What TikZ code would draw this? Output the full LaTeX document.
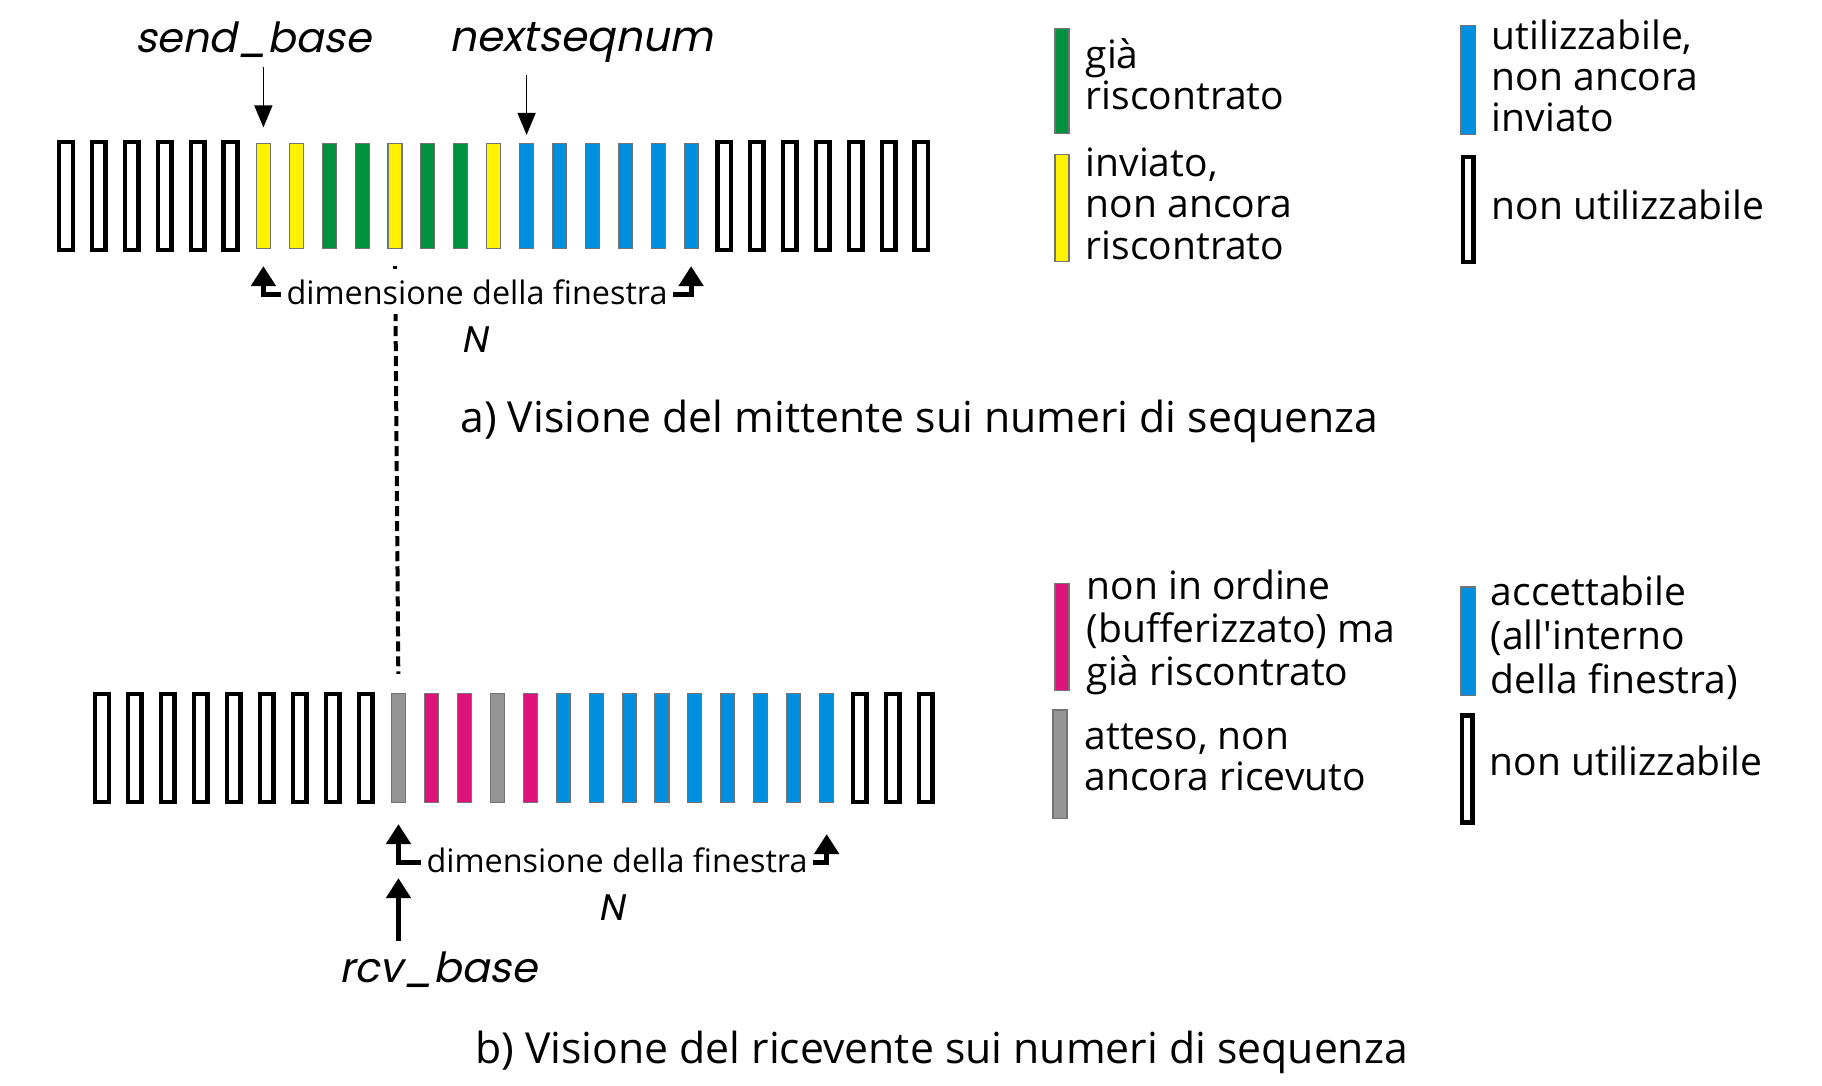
\documentclass[tikz,border=0pt]{standalone}
\usepackage{fontspec}
\setmainfont{Open Sans}
\newfontfamily\geofont{Poppins}[FakeSlant=0.2]
\usetikzlibrary{arrows.meta}

\definecolor{ackgreen}{HTML}{00923F}
\definecolor{sentyellow}{HTML}{FFF200}
\definecolor{freeblue}{HTML}{008FDE}
\definecolor{bufmagenta}{HTML}{DE137A}
\definecolor{waitgray}{HTML}{959595}

\tikzset{
  bar/.style={rectangle, inner sep=0pt, minimum width=0.14cm, draw=black!55, line width=0.3pt},
  bar-o/.style={rectangle, inner sep=0pt, draw=black, line width=0.045cm, minimum width=0.135cm, minimum height=1.08cm},
  bar-y/.style={bar, fill=sentyellow},
  bar-g/.style={bar, fill=ackgreen},
  bar-b/.style={bar, fill=freeblue},
  bar-m/.style={bar, fill=bufmagenta},
  bar-w/.style={bar, fill=waitgray},
  legtext/.style={anchor=base west, align=left, inner sep=0pt, font=\fontsize{11.1}{11.7}\selectfont},
  caption/.style={anchor=base, inner sep=0pt, font=\fontsize{12.15}{14}\selectfont},
  dimtext/.style={anchor=base, fill=white, inner xsep=0.05cm, inner ysep=0.1cm, font=\fontsize{9.2}{11}\selectfont},
  seqlabel/.style={anchor=base, inner sep=0pt, font=\geofont\fontsize{11.8}{13}\selectfont},
  ptr/.style={line width=0.015cm, -{Triangle[width=0.18cm,length=0.22cm]}},
  dimarr/.style={line width=0.05cm, -{Triangle[width=0.24cm,length=0.2cm]}},
}

\begin{document}
\begin{tikzpicture}[x=0.01cm, y=-0.01cm]
        % \draw[help lines, gray!40, very thin] (0,0) grid[step=100] (1822,1085);
        \useasboundingbox (0,0) rectangle (1822,1085);

        % a) sender
        \foreach \c [count=\i] in {o,o,o,o,o,o,y,y,g,g,y,g,g,y,b,b,b,b,b,b,o,o,o,o,o,o,o}
          \node[minimum height=1.05cm, bar-\c] (s\i) at ({66+32.9*(\i-1)},196) {};

        % b) receiver
        \foreach \c [count=\i] in {o,o,o,o,o,o,o,o,o,w,m,m,w,m,b,b,b,b,b,b,b,b,b,o,o,o}
          \node[minimum height=1.09cm, bar-\c] (r\i) at ({102+32.94*(\i-1)},748) {};

        \draw[line width=0.04cm, dash pattern=on 0.1cm off 0.05cm, shorten <=0.17cm, shorten >=0.19cm] (s11.south) -- (r10.north);

        \node[seqlabel] (sendbase) at (253,53) {send\_base};
        \node[seqlabel, font=\geofont\fontsize{12}{13}\selectfont] (nextseq) at (581,52) {nextseqnum};
        \draw[ptr, shorten <=0.08cm, shorten >=0.155cm] (sendbase.south -| s7.north) -- (s7.north);
        \draw[ptr, shorten <=0.11cm, shorten >=0.08cm] (nextseq.south -| s15.north) -- (s15.north);

        \node[dimtext] (win-send) at (477,304) {dimensione della finestra};
        \draw[dimarr] (win-send.mid west) -| ([yshift=-0.17cm]s7.south);
        \draw[dimarr] (win-send.mid east) -| ([yshift=-0.17cm]s20.south);
        \node[seqlabel, font=\geofont\fontsize{10.5}{12}\selectfont] (n-send) at (474,352) {N};

        \node[dimtext] (win-rcv) at (617,872) {dimensione della finestra};
        \draw[dimarr] (win-rcv.mid west) -| ([yshift=-0.21cm]r10.south);
        \draw[dimarr] (win-rcv.mid east) -| ([yshift=-0.31cm]r23.south);
        \node[seqlabel, font=\geofont\fontsize{10.5}{12}\selectfont] (n-rcv) at (611,920) {N};

        \node[seqlabel] (rcvbase) at (438,982) {rcv\_base};
        \draw[dimarr, shorten <=0.1cm] (rcvbase.north -| r10.south) -- ([yshift=-0.75cm]r10.south);

        \node[caption] (cap-send) at (919.5,432) {a) Visione del mittente sui numeri di sequenza};
        \node[caption] (cap-rcv) at (941.5,1063) {b) Visione del ricevente sui numeri di sequenza};

        % legend, sender (base = last line)
        \node[bar-g, minimum height=1.05cm] (leg-acked) at (1062,81) {};
        \node[legtext] at (1085,110) {già\\riscontrato};
        \node[bar-y, minimum height=1.06cm] (leg-sent) at (1062,208) {};
        \node[legtext] at (1085,259) {inviato,\\non ancora\\riscontrato};
        \node[bar-b, minimum height=1.08cm] (leg-usable) at (1468,80) {};
        \node[legtext] at (1491,132) {utilizzabile,\\non ancora\\inviato};
        \node[bar-o, minimum height=1.045cm, minimum width=0.105cm] (leg-unusable) at (1468,209.5) {};
        \node[legtext] at (1491,219) {non utilizzabile};

        % legend, receiver
        \node[bar-m, minimum height=1.07cm] (leg-buffered) at (1062,637) {};
        \node[legtext, font=\fontsize{11.1}{12.2}\selectfont] at (1086,685) {non in ordine\\(bufferizzato) ma\\già riscontrato};
        \node[bar-w, minimum height=1.08cm] (leg-expected) at (1060,764) {};
        \node[legtext, font=\fontsize{11.1}{11.4}\selectfont] at (1084,790) {atteso, non\\ancora ricevuto};
        \node[bar-b, minimum height=1.08cm] (leg-accept) at (1468,641) {};
        \node[legtext, font=\fontsize{11.1}{12.4}\selectfont] at (1490,693) {accettabile\\(all\textquotesingle interno\\della finestra)};
        \node[bar-o, minimum height=1.07cm, minimum width=0.105cm] (leg-unusable2) at (1467,769) {};
        \node[legtext] at (1489,775) {non utilizzabile};
\end{tikzpicture}
\end{document}
